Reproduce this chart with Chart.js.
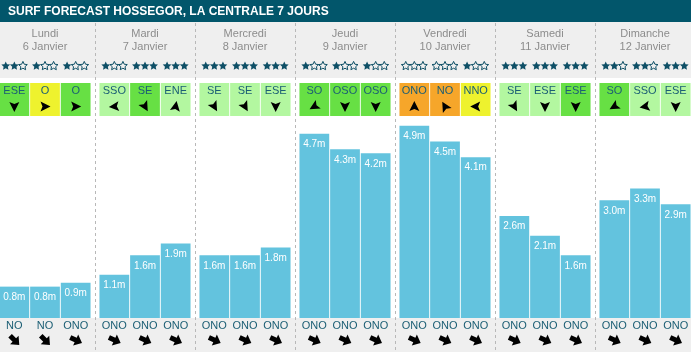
<!DOCTYPE html>
<html>
<head>
<meta charset="utf-8">
<script src="https://cdn.jsdelivr.net/npm/chart.js@4/dist/chart.umd.min.js"></script>
<style>
  html, body { margin: 0; padding: 0; background: #fff; overflow: hidden; }
  #wrap { position: absolute; left: -5px; top: 0; width: 700px; height: 352px; }
</style>
</head>
<body>
<div id="wrap"><canvas id="chart"></canvas></div>
<script>
const title = 'SURF FORECAST HOSSEGOR, LA CENTRALE 7 JOURS';
const days = ['Lundi', 'Mardi', 'Mercredi', 'Jeudi', 'Vendredi', 'Samedi', 'Dimanche'];
const dates = ['6 Janvier', '7 Janvier', '8 Janvier', '9 Janvier', '10 Janvier', '11 Janvier', '12 Janvier'];

// 3 slots per day
const waveHeights = [0.8, 0.8, 0.9, 1.1, 1.6, 1.9, 1.6, 1.6, 1.8, 4.7, 4.3, 4.2, 4.9, 4.5, 4.1, 2.6, 2.1, 1.6, 3.0, 3.3, 2.9];
const stars = [2, 1, 1, 1, 3, 3, 3, 3, 3, 1, 1, 1, 0, 0, 1, 3, 3, 3, 2, 2, 3];
const windDirs = ['ESE', 'O', 'O', 'SSO', 'SE', 'ENE', 'SE', 'SE', 'ESE', 'SO', 'OSO', 'OSO', 'ONO', 'NO', 'NNO', 'SE', 'ESE', 'ESE', 'SO', 'SSO', 'ESE'];
const windAngles = [180, 90, 90, 265, 150, 10, 150, 150, 180, 240, 180, 180, 0, 330, 270, 150, 180, 180, 240, 260, 180];
const windLevels = [1, 2, 1, 0, 1, 0, 0, 0, 0, 1, 1, 1, 3, 3, 2, 0, 0, 1, 1, 0, 0];
const swellDirs = ['NO', 'NO', 'ONO', 'ONO', 'ONO', 'ONO', 'ONO', 'ONO', 'ONO', 'ONO', 'ONO', 'ONO', 'ONO', 'ONO', 'ONO', 'ONO', 'ONO', 'ONO', 'ONO', 'ONO', 'ONO'];
const swellAngles = [135, 135, 115, 115, 115, 115, 115, 115, 115, 115, 115, 115, 115, 115, 115, 115, 115, 115, 115, 115, 115];

const windColors = ['#b3f7a0', '#67e044', '#eef22e', '#f6a62a'];
const teal = '#0e4f66';
const font = '"Liberation Sans", Arial, sans-serif';

const slotData = s => waveHeights.filter((v, i) => i % 3 === s);

drawStar = (ctx, x, y, filled) => {
    ctx.beginPath();
    for (let k = 0; k < 10; k++) {
        const r = k % 2 === 0 ? 4.6 : 2.2;
        const a = -Math.PI / 2 + k * Math.PI / 5;
        ctx.lineTo(x + r * Math.cos(a), y + r * Math.sin(a));
    }
    ctx.closePath();
    if (filled) {
        ctx.fillStyle = teal;
        ctx.fill();
    } else {
        ctx.strokeStyle = teal;
        ctx.lineWidth = 1;
        ctx.stroke();
    }
}

drawWindArrow = (ctx, x, y, deg) => {
    ctx.save();
    ctx.translate(x, y);
    ctx.rotate(deg * Math.PI / 180);
    ctx.beginPath();
    ctx.moveTo(0, -5.5);
    ctx.lineTo(5, 4.5);
    ctx.lineTo(0, 2.5);
    ctx.lineTo(-5, 4.5);
    ctx.closePath();
    ctx.fillStyle = '#000';
    ctx.fill();
    ctx.restore();
}

drawSwellArrow = (ctx, x, y, deg) => {
    ctx.save();
    ctx.translate(x, y);
    ctx.rotate(deg * Math.PI / 180);
    ctx.beginPath();
    ctx.moveTo(0, -7);
    ctx.lineTo(6, 0);
    ctx.lineTo(2.5, 0);
    ctx.lineTo(2.5, 6);
    ctx.lineTo(-2.5, 6);
    ctx.lineTo(-2.5, 0);
    ctx.lineTo(-6, 0);
    ctx.closePath();
    ctx.fillStyle = '#000';
    ctx.fill();
    ctx.restore();
}

const decorations = {
    id: 'decorations',
    beforeDraw(chart) {
        const { ctx, width, height, chartArea } = chart;
        const xScale = chart.scales.x;
        ctx.save();
        ctx.fillStyle = '#efefef';
        ctx.fillRect(0, 22, width, chartArea.top - 22);
        ctx.fillRect(0, chartArea.bottom, width, height - chartArea.bottom);
        ctx.fillStyle = '#02566b';
        ctx.fillRect(0, 0, width, 22);
        ctx.fillStyle = '#fff';
        ctx.font = 'bold 12px ' + font;
        ctx.textBaseline = 'middle';
        ctx.fillText(title, 13, 11.5);

        // day separators
        ctx.strokeStyle = '#b8b8b8';
        ctx.lineWidth = 1;
        ctx.setLineDash([3, 3]);
        for (let d = 1; d < days.length; d++) {
            const x = Math.round((xScale.getPixelForValue(d - 1) + xScale.getPixelForValue(d)) / 2) + 0.5;
            ctx.beginPath();
            ctx.moveTo(x, 23);
            ctx.lineTo(x, height);
            ctx.stroke();
        }
        ctx.setLineDash([]);

        // day headers
        ctx.fillStyle = '#8c8c8c';
        ctx.font = '11px ' + font;
        ctx.textAlign = 'center';
        days.forEach((day, d) => {
            const x = xScale.getPixelForValue(d);
            ctx.fillText(day, x, 34);
            ctx.fillText(dates[d], x, 47);
        });
        ctx.restore();
    },
    afterDatasetsDraw(chart) {
        const { ctx, chartArea } = chart;
        ctx.save();
        ctx.textAlign = 'center';
        ctx.textBaseline = 'middle';
        for (let s = 0; s < 3; s++) {
            const meta = chart.getDatasetMeta(s);
            meta.data.forEach((bar, d) => {
                const i = d * 3 + s;
                const left = bar.x - bar.width / 2;
                // stars
                for (let k = 0; k < 3; k++) {
                    drawStar(ctx, bar.x + (k - 1) * 8.6, 66, k < stars[i]);
                }
                // wind box
                ctx.fillStyle = windColors[windLevels[i]];
                ctx.fillRect(left, 83, bar.width, 33);
                ctx.fillStyle = '#1b5e74';
                ctx.font = '11px ' + font;
                ctx.fillText(windDirs[i], bar.x, 91);
                drawWindArrow(ctx, bar.x, 106.5, windAngles[i]);
                // value label
                ctx.fillStyle = '#fff';
                ctx.font = '10px ' + font;
                ctx.fillText(waveHeights[i].toFixed(1) + 'm', bar.x, bar.y + 10.5);
                // swell
                ctx.fillStyle = '#1b5e74';
                ctx.font = '11px ' + font;
                ctx.fillText(swellDirs[i], bar.x, chartArea.bottom + 8);
                drawSwellArrow(ctx, bar.x, chartArea.bottom + 22, swellAngles[i]);
            });
        }
        ctx.restore();
    }
};

const ctx = document.getElementById('chart').getContext('2d');
new Chart(ctx, {
    type: 'bar',
    data: {
        labels: days,
        datasets: [0, 1, 2].map(s => ({
            data: slotData(s),
            backgroundColor: '#63c3de',
            borderWidth: 0,
            categoryPercentage: 0.92,
            barPercentage: 0.97,
        })),
    },
    options: {
        responsive: true,
        maintainAspectRatio: false,
        animation: false,
        events: [],
        layout: { padding: { top: 78, bottom: 34, left: 0, right: 0 } },
        plugins: { legend: { display: false }, tooltip: { enabled: false } },
        scales: {
            x: { display: false },
            y: { display: false, min: 0, max: 6.12 },
        },
    },
    plugins: [decorations],
});
</script>
</body>
</html>
